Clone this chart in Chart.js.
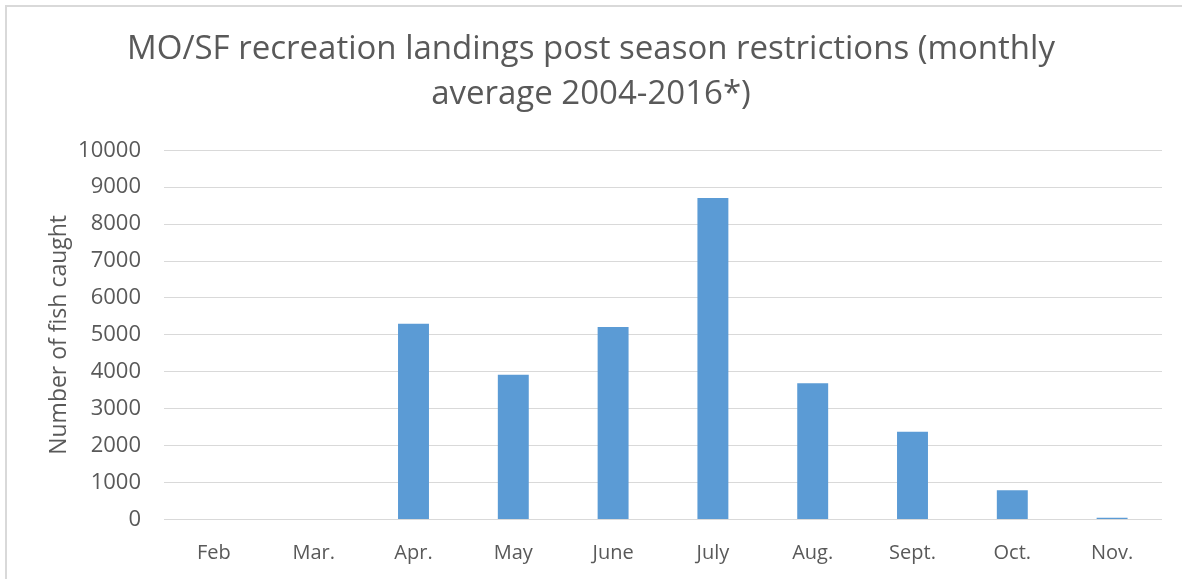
<!DOCTYPE html>
<html>
<head>
<meta charset="utf-8">
<script src="https://cdn.jsdelivr.net/npm/chart.js@4"></script>
<style>
  html, body { margin: 0; padding: 0; background: #fff; }
  #wrap { width: 1182px; height: 579px; position: relative; }
</style>
</head>
<body>
<div id="wrap"><canvas id="landingsChart"></canvas></div>
<script>
// monthly average landings, 2004-2016
const months = ["Feb", "Mar.", "Apr.", "May", "June", "July", "Aug.", "Sept.", "Oct.", "Nov."];
const fishCaught = [0, 0, 5300, 3920, 5215, 8710, 3690, 2375, 795, 50];
const yTicks = { min: 0, max: 10000, step: 1000 };
const chartTitle = ["MO/SF recreation landings post season restrictions (monthly", "average 2004-2016*)"];
const yTitle = "Number of fish caught";

const textGrey = "#595959";
const lineGrey = "#d9d9d9";

// light frame around the chart, like the office chart area
const framePlugin = {
  id: "frame",
  beforeDraw(chart) {
    const ctx = chart.ctx;
    ctx.save();
    ctx.fillStyle = "#fff";
    ctx.fillRect(0, 0, chart.width, chart.height);
    ctx.strokeStyle = lineGrey;
    ctx.lineWidth = 2;
    ctx.strokeRect(6, 6, chart.width + 20, chart.height + 20);
    ctx.restore();
  },
};

document.addEventListener("DOMContentLoaded", function () {
  const ctx = document.getElementById("landingsChart").getContext("2d");
  new Chart(ctx, {
    type: "bar",
    data: {
      labels: months,
      datasets: [
        {
          label: "Landings",
          data: fishCaught,
          backgroundColor: "#5b9bd5",
          borderWidth: 0,
          barPercentage: 0.31,
          categoryPercentage: 1,
        },
      ],
    },
    options: {
      responsive: true,
      maintainAspectRatio: false,
      animation: false,
      layout: { padding: 0 },
      scales: {
        x: {
          grid: { display: false },
          border: { display: false },
          ticks: {
            color: textGrey,
            font: { family: "Open Sans", size: 20 },
            padding: 14,
            maxRotation: 0,
          },
          afterFit(scale) {
            scale.height = 59.5;
          },
        },
        y: {
          min: yTicks.min,
          max: yTicks.max,
          border: { display: false },
          grid: { color: lineGrey, lineWidth: 1, drawTicks: false },
          ticks: {
            stepSize: yTicks.step,
            color: textGrey,
            font: { family: "Open Sans", size: 22 },
            padding: 23,
            callback: (v) => String(v),
          },
          title: {
            display: true,
            text: yTitle,
            color: textGrey,
            font: { family: "Open Sans", size: 23 },
            padding: { top: 46, bottom: 0 },
          },
          afterFit(scale) {
            scale.width = 164;
          },
        },
        yRight: {
          position: "right",
          grid: { display: false },
          border: { display: false },
          ticks: { display: false },
          afterFit(scale) {
            scale.width = 20;
          },
        },
      },
      plugins: {
        legend: { display: false },
        tooltip: { enabled: false },
        title: {
          display: true,
          text: chartTitle,
          color: textGrey,
          font: { family: "Open Sans", size: 33, weight: "normal", lineHeight: 1.36 },
          padding: { top: 27, bottom: 33.5 },
        },
      },
    },
    plugins: [framePlugin],
  });
});
</script>
</body>
</html>
